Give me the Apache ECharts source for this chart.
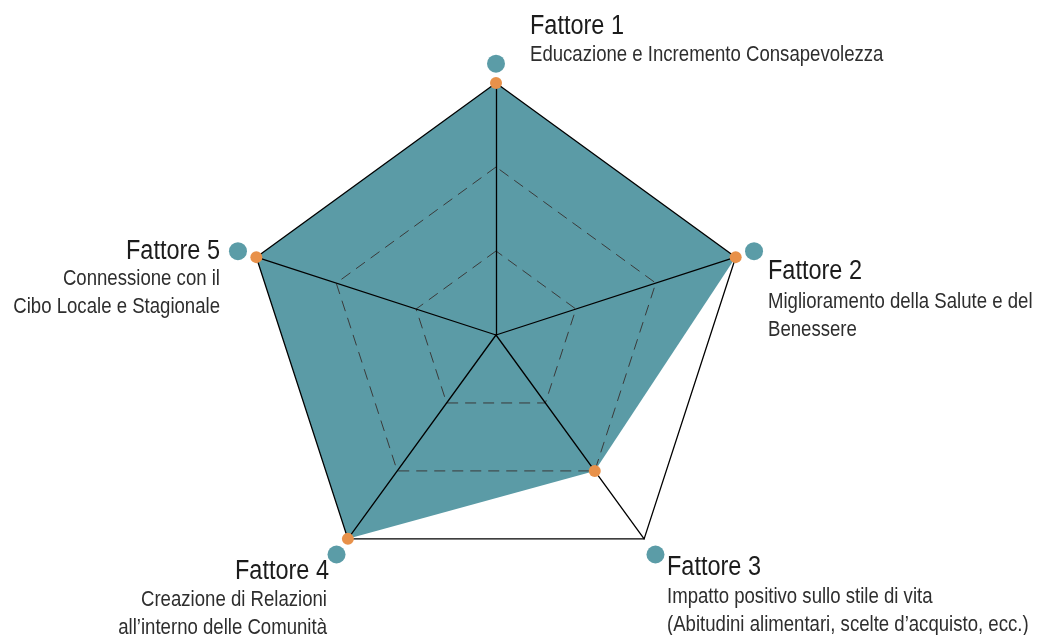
<!DOCTYPE html>
<html>
<head>
<meta charset="utf-8">
<script src="https://cdn.jsdelivr.net/npm/echarts@6.0.0/dist/echarts.min.js"></script>
<style>
  html, body { margin: 0; padding: 0; background: #ffffff; }
  #chart { width: 1056px; height: 635px; }
</style>
</head>
<body>
<div id="chart"></div>
<script>
// Radar of the five impact factors
const factorNames = ['Fattore 1', 'Fattore 2', 'Fattore 3', 'Fattore 4', 'Fattore 5'];
const factorDescriptions = [
  ['Educazione e Incremento Consapevolezza'],
  ['Miglioramento della Salute e del', 'Benessere'],
  ['Impatto positivo sullo stile di vita', '(Abitudini alimentari, scelte d\u2019acquisto, ecc.)'],
  ['Creazione di Relazioni', 'all\u2019interno delle Comunit\u00e0'],
  ['Connessione con il', 'Cibo Locale e Stagionale']
];
const scaleMax = 3;
const scores = [3, 3, 2, 3, 3];
// bullets sitting just outside the frame, next to each factor title
const bulletRing = [3.23, 3.23, 3.23, 3.23, 3.23];

// where each factor's text block is anchored
const labelAnchors = [
  { x: 530, y: 27,  align: 'left',  subX: 530, subY: 55 },
  { x: 768, y: 272, align: 'left',  subX: 768, subY: 302 },
  { x: 667, y: 568, align: 'left',  subX: 667, subY: 597 },
  { x: 329, y: 572, align: 'right', subX: 327, subY: 600 },
  { x: 220, y: 252, align: 'right', subX: 220, subY: 279 }
];
const subLineGap = 27.5;

// condensed look obtained by squeezing a regular sans horizontally
const TITLE_FONT = '27px "Liberation Sans", Arial, sans-serif';
const TITLE_SQUEEZE = 0.87;
const SUB_FONT = '22px "Liberation Sans", Arial, sans-serif';
const SUB_SQUEEZE = 0.845;

const CENTER = [496, 335];
const RADIUS = 252;

// ECharts lays radar indicators out counter-clockwise; list them so the
// factors run clockwise from the top.
const order = [0, 4, 3, 2, 1];
const indicators = order.map(i => ({ name: factorNames[i], min: 0, max: scaleMax }));
const pick = arr => order.map(i => arr[i]);

const textElements = [];
labelAnchors.forEach((a, i) => {
  textElements.push({
    type: 'text', x: a.x, y: a.y, scaleX: TITLE_SQUEEZE, silent: true,
    style: {
      text: factorNames[i], font: TITLE_FONT, fill: '#1c1c1c',
      align: a.align, textAlign: a.align, verticalAlign: 'middle', textVerticalAlign: 'middle'
    }
  });
  factorDescriptions[i].forEach((line, k) => {
    textElements.push({
      type: 'text', x: a.subX, y: a.subY + k * subLineGap, scaleX: SUB_SQUEEZE, silent: true,
      style: {
        text: line, font: SUB_FONT, fill: '#2e2e2e',
        align: a.align, textAlign: a.align, verticalAlign: 'middle', textVerticalAlign: 'middle'
      }
    });
  });
});

const chart = echarts.init(document.getElementById('chart'), null, { renderer: 'canvas' });
chart.setOption({
  animation: false,
  backgroundColor: '#ffffff',
  radar: [
    {
      // inner dashed rings
      center: CENTER, radius: RADIUS, startAngle: 90, shape: 'polygon',
      splitNumber: 3, indicator: indicators, z: 3,
      axisName: { show: false },
      axisLine: { show: false },
      axisTick: { show: false },
      axisLabel: { show: false },
      splitArea: { show: false },
      splitLine: {
        lineStyle: { color: ['#3a3a3a', '#3a3a3a', '#3a3a3a', 'rgba(0,0,0,0)'], width: 1, type: [11, 7] }
      }
    },
    {
      // outer frame and spokes
      center: CENTER, radius: RADIUS, startAngle: 90, shape: 'polygon',
      splitNumber: 1, indicator: indicators, z: 3,
      axisName: { show: false },
      axisTick: { show: false },
      axisLabel: { show: false },
      splitArea: { show: false },
      axisLine: { lineStyle: { color: '#000000', width: 1.3 } },
      splitLine: { lineStyle: { color: ['rgba(0,0,0,0)', '#000000'], width: 1.3 } }
    }
  ],
  series: [
    {
      type: 'radar', radarIndex: 0, z: 2, silent: true,
      symbol: 'none',
      lineStyle: { width: 0, opacity: 0 },
      areaStyle: { color: '#5b9ba6', opacity: 1 },
      data: [{ value: pick(scores) }]
    },
    {
      type: 'radar', radarIndex: 0, z: 4, silent: true,
      symbol: 'circle', symbolSize: 18,
      itemStyle: { color: '#5b9ca7' },
      lineStyle: { width: 0, opacity: 0 },
      data: [{ value: pick(bulletRing) }]
    },
    {
      type: 'radar', radarIndex: 0, z: 5, silent: true,
      symbol: 'circle', symbolSize: 12,
      itemStyle: { color: '#e8914a' },
      lineStyle: { width: 0, opacity: 0 },
      data: [{ value: pick(scores) }]
    }
  ],
  graphic: { elements: textElements }
});
</script>
</body>
</html>
